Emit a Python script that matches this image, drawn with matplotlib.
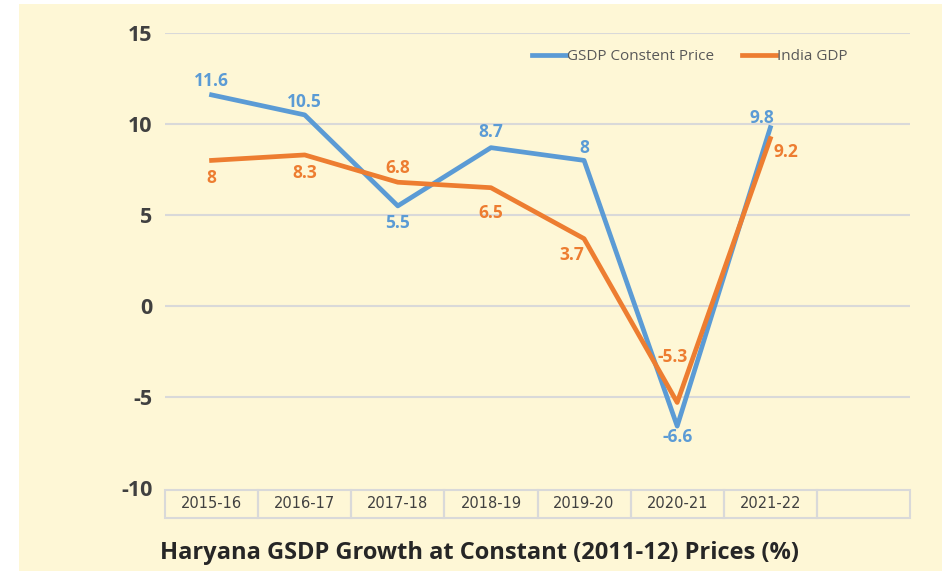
import matplotlib
matplotlib.use("Agg")
import matplotlib.pyplot as plt
from matplotlib.patches import Rectangle
from matplotlib.lines import Line2D

categories = ["2015-16", "2016-17", "2017-18", "2018-19", "2019-20", "2020-21", "2021-22", ""]
gsdp = [11.6, 10.5, 5.5, 8.7, 8, -6.6, 9.8]
india = [8, 8.3, 6.8, 6.5, 3.7, -5.3, 9.2]
yticks = [15, 10, 5, 0, -5, -10]

BLUE = "#5B9BD5"
ORANGE = "#ED7D31"
BG = "#FEF7D6"
W, H = 942, 571

fig = plt.figure(figsize=(W / 100, H / 100), dpi=100)
fig.patch.set_facecolor("white")
fig.patches.append(Rectangle((19 / W, 0), 1 - 19 / W, 1 - 4 / H, transform=fig.transFigure,
                             facecolor=BG, edgecolor="none", zorder=-10))

ax = fig.add_axes([165 / W, 1 - 488 / H, (910 - 165) / W, (488 - 33) / H])
ax.set_facecolor("none")
ax.set_xlim(-0.5, len(categories) - 0.5)
ax.set_ylim(-10, 15)
for s in ax.spines.values():
    s.set_visible(False)
ax.set_yticks(yticks)
ax.set_yticklabels([str(v) for v in yticks], fontsize=15.5, fontweight="bold", color="#404040",
                   family="Open Sans")
ax.tick_params(axis="y", length=0, pad=9)
ax.set_xticks([])
for v in yticks[:-1]:
    ax.axhline(v, color="#D9D9D9", lw=1.5, zorder=1)

x = list(range(len(gsdp)))
ax.plot(x, gsdp, color=BLUE, lw=3.4, zorder=3, solid_joinstyle="round")
ax.plot(x, india, color=ORANGE, lw=3.4, zorder=3, solid_joinstyle="round")

lab_kw = dict(fontsize=12.5, fontweight="bold", family="Open Sans", zorder=4,
              ha="center", va="center")
# label offsets in points from each point (label centre)
g_off = [(0, 10), (0, 9), (0, -12), (0, 11), (0, 9), (0, -8), (-6, 7)]
i_off = [(0, -13), (0, -13), (0, 10), (0, -18), (-9, -12), (-3, 33), (11, -10)]

for xi, yi, off in zip(x, gsdp, g_off):
    ax.annotate(f"{yi:g}", (xi, yi), xytext=off, textcoords="offset points", color=BLUE, **lab_kw)
for xi, yi, off in zip(x, india, i_off):
    ax.annotate(f"{yi:g}", (xi, yi), xytext=off, textcoords="offset points", color=ORANGE, **lab_kw)

# category table below axis
trans = ax.get_xaxis_transform()
cell_h = 28 / (488 - 33)
y0 = -2 / (488 - 33) - cell_h
for i, c in enumerate(categories):
    ax.add_patch(Rectangle((i - 0.5, y0), 1, cell_h, transform=trans, facecolor="none",
                           edgecolor="#D9D9D9", lw=1.5, clip_on=False))
    ax.text(i, y0 + cell_h / 2, c, transform=trans, ha="center", va="center",
            fontsize=10.5, color="#404040", family="Liberation Sans Narrow")

# legend
handles = [Line2D([], [], color=BLUE, lw=3.4), Line2D([], [], color=ORANGE, lw=3.4)]
fig.legend(handles, ["GSDP Constent Price", "India GDP"], loc="center",
           bbox_to_anchor=(690 / W, 1 - 57 / H), ncol=2, frameon=False,
           handlelength=2.2, handletextpad=0.1, columnspacing=1.8,
           prop=dict(family="Open Sans", size=11), labelcolor="#595959")

fig.text(480 / W, 1 - 553 / H, "Haryana GSDP Growth at Constant (2011-12) Prices (%)",
         ha="center", va="center", fontsize=17, fontweight="bold", color="#262626",
         family="Open Sans", fontstretch="condensed")

fig.savefig("out.png", dpi=100, facecolor=fig.get_facecolor())
